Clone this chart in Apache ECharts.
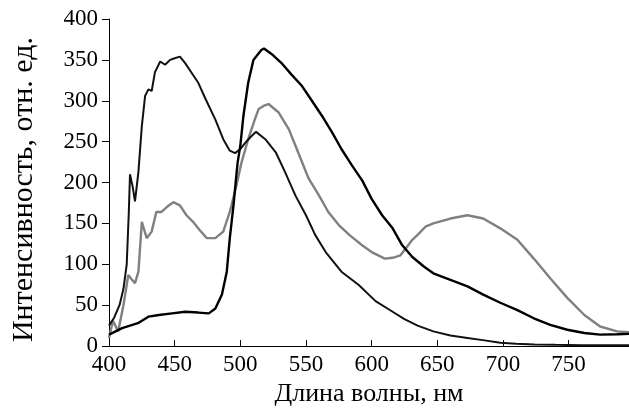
<!DOCTYPE html>
<html>
<head>
<meta charset="utf-8">
<script src="https://cdn.jsdelivr.net/npm/echarts@6/dist/echarts.min.js"></script>
<style>html,body{margin:0;padding:0;background:#fff}#c{width:629px;height:412px}</style>
</head>
<body>
<div id="c"></div>
<script>
const xTicks = [400, 450, 500, 550, 600, 650, 700, 750];
const yTicks = [0, 50, 100, 150, 200, 250, 300, 350, 400];
const xTitle = 'Длина волны, нм';
const yTitle = 'Интенсивность, отн. ед.';

const wlA = [400,404,408,411,413.5,415,416,418,419.8,422.4,425,427.5,430,432.5,435,439,442.7,446.5,450,454,458,463,468,473,481,487,492,496,500,504,508,512,519,527,534,542,550,557,565,577,590,603,616,625,635,647,660,673,686,698,710,724,740,760,780,796];
const intA = [25,35,50,70,100,160,210,195,177,213,269,306,314,312,335,348,344,350,352,354,346,334,322,304,277,253,239,236,241,249,256,262,253,237,213,184,160,136,115,91,75,55,42,33,25,18,13,10,7,4,3,2,1.5,1,1,1];

const wlB = [400,403,407,411,414.7,417,419.8,422.4,425,428.7,432.5,436,440,444,449,454,459,464,469,474.5,481,487,492,497,501,506,511,514,518,521.5,529,537,544,552,560,567,575,583,593,600,610,616,622,631,635,641,647,660,673,685,698,711,723.5,736,749,762,774,787,796];
const intB = [10,31,18,50,87,82,77,91,152,132,140,164,164,170,176,172,160,152,142,132,132,140,164,196,225,253,277,290,294,296,286,265,237,205,184,164,148,136,123,115,107,108,111,130,136,146,150,156,160,156,144,130,107,83,59,38,24,18,17];

const wlC = [400,405,410,422,430,438,448,458,468,476,481,486,489.7,492,494.8,497,498,500,502.4,506,510,516,518,524,532,539,547,554.5,562,570,577,585,593,600,608,616,623,631,640,647,660,673,685,698,711,723.5,736,749,762,774,787,796];
const intC = [14,18,22,28,36,38,40,42,41,40,46,63,91,132,172,209,225,245,282,322,350,362,364,357,345,332,318,300,282,261,241,221,202,180,160,144,124,109,97,89,81,73,63,53,44,34,26,20,16,14,14.5,15];

const zip = (xs, ys) => xs.map((x, i) => [x, ys[i]]);
const FONT = 'Liberation Serif';

const chart = echarts.init(document.getElementById('c'), null, {renderer: 'canvas'});
chart.setOption({
  animation: false,
  backgroundColor: '#fff',
  grid: {left: 109, right: 0, top: 19, bottom: 64, containLabel: false},
  xAxis: {
    type: 'value', min: 400, max: 796, interval: 50,
    name: xTitle, nameLocation: 'middle', nameGap: 33,
    nameTextStyle: {fontFamily: FONT, fontSize: 26, color: '#000'},
    axisLine: {show: true, onZero: false, lineStyle: {color: '#000', width: 1}},
    axisTick: {show: true, inside: true, length: 6, lineStyle: {color: '#000'}, customValues: xTicks},
    axisLabel: {fontFamily: FONT, fontSize: 23, color: '#000', margin: 7, customValues: xTicks},
    splitLine: {show: false}
  },
  yAxis: {
    type: 'value', min: 0, max: 400, interval: 50,
    name: yTitle, nameLocation: 'middle', nameGap: 70, nameRotate: 90,
    nameTextStyle: {fontFamily: FONT, fontSize: 30, color: '#000', padding: [0, 14, 0, 0]},
    axisLine: {show: true, lineStyle: {color: '#000', width: 1}},
    axisTick: {show: true, inside: false, length: 7, lineStyle: {color: '#000'}, customValues: yTicks},
    axisLabel: {fontFamily: FONT, fontSize: 23, color: '#000', margin: 11, customValues: yTicks},
    splitLine: {show: false}
  },
  series: [
    {type: 'line', data: zip(wlA, intA), showSymbol: false, lineStyle: {color: '#111', width: 2}, z: 3},
    {type: 'line', data: zip(wlB, intB), showSymbol: false, lineStyle: {color: '#808080', width: 2.4}, z: 2},
    {type: 'line', data: zip(wlC, intC), showSymbol: false, lineStyle: {color: '#000', width: 2.4}, z: 4}
  ]
});
</script>
</body>
</html>
